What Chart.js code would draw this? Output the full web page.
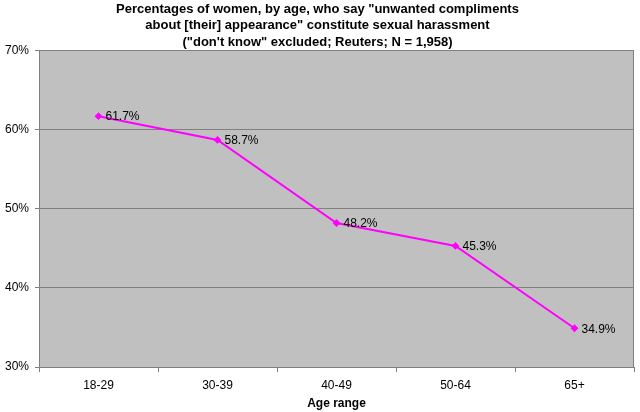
<!DOCTYPE html>
<html>
<head>
<meta charset="utf-8">
<script src="https://cdn.jsdelivr.net/npm/chart.js@4"></script>
<style>
  html, body { margin: 0; padding: 0; background: #fff; }
  #wrap { width: 640px; height: 412px; }
</style>
</head>
<body>
<div id="wrap"><canvas id="chart" width="640" height="412"></canvas></div>
<script>
const ageRanges = ['18-29', '30-39', '40-49', '50-64', '65+'];
const pctWomen = [61.7, 58.7, 48.2, 45.3, 34.9];
const yTicks = [30, 40, 50, 60, 70];

const titleLines = [
    'Percentages of women, by age, who say "unwanted compliments',
    'about [their] appearance" constitute sexual harassment',
    '("don\'t know" excluded; Reuters; N = 1,958)'
];

// gray plot area + right border, like the old Excel look
const plotBg = {
    id: 'plotBg',
    beforeDraw(chart) {
        const a = chart.chartArea, c = chart.ctx;
        c.save();
        c.fillStyle = '#c0c0c0';
        c.fillRect(a.left, a.top, a.right - a.left, a.bottom - a.top);
        c.restore();
    },
    afterDraw(chart) {
        const a = chart.chartArea, c = chart.ctx;
        c.save();
        c.strokeStyle = '#808080';
        c.lineWidth = 1;
        c.beginPath();
        c.moveTo(Math.round(a.right) - 0.5, a.top);
        c.lineTo(Math.round(a.right) - 0.5, a.bottom);
        c.stroke();
        c.restore();
    }
};

// value labels to the right of each point
const pointLabels = {
    id: 'pointLabels',
    afterDatasetsDraw(chart) {
        const c = chart.ctx;
        const meta = chart.getDatasetMeta(0);
        c.save();
        c.font = '12px "Liberation Sans", Arial, sans-serif';
        c.fillStyle = '#000';
        c.textAlign = 'left';
        c.textBaseline = 'middle';
        meta.data.forEach((pt, i) => {
            c.fillText(pctWomen[i].toFixed(1) + '%', pt.x + 7, pt.y + 1);
        });
        c.restore();
    }
};

const ctx = document.getElementById('chart').getContext('2d');

new Chart(ctx, {
    type: 'line',
    data: {
        labels: ageRanges,
        datasets: [{
            data: pctWomen,
            borderColor: '#ff00ff',
            backgroundColor: '#ff00ff',
            borderWidth: 2,
            pointStyle: 'rectRot',
            pointRadius: 2.5,
            tension: 0
        }]
    },
    options: {
        responsive: false,
        animation: false,
        layout: { padding: { left: 0, right: 5, top: 0, bottom: 0 } },
        plugins: {
            legend: { display: false },
            tooltip: { enabled: false },
            title: {
                display: true,
                text: titleLines,
                color: '#000',
                font: { family: '"Liberation Sans", Arial, sans-serif', size: 13, weight: 'bold', lineHeight: '16.5px' },
                padding: { top: 1, bottom: 0 }
            }
        },
        scales: {
            x: {
                offset: true,
                grid: {
                    offset: true,
                    drawOnChartArea: false,
                    color: '#808080',
                    tickLength: 5
                },
                border: { color: '#808080' },
                ticks: {
                    color: '#000',
                    padding: 6,
                    maxRotation: 0,
                    font: { family: '"Liberation Sans", Arial, sans-serif', size: 12 }
                },
                title: {
                    display: true,
                    text: 'Age range',
                    color: '#000',
                    font: { family: '"Liberation Sans", Arial, sans-serif', size: 12, weight: 'bold' },
                    padding: { top: 0, bottom: 1 }
                },
                afterFit(scale) { scale.height = 45; }
            },
            y: {
                min: 30,
                max: 70,
                afterBuildTicks(scale) { scale.ticks = yTicks.map(v => ({ value: v })); },
                grid: {
                    color: '#808080',
                    tickLength: 4
                },
                border: { color: '#808080' },
                ticks: {
                    color: '#000',
                    padding: 6,
                    font: { family: '"Liberation Sans", Arial, sans-serif', size: 12 },
                    callback: v => v + '%'
                },
                afterFit(scale) { scale.width = 39; }
            }
        }
    },
    plugins: [plotBg, pointLabels]
});
</script>
</body>
</html>
